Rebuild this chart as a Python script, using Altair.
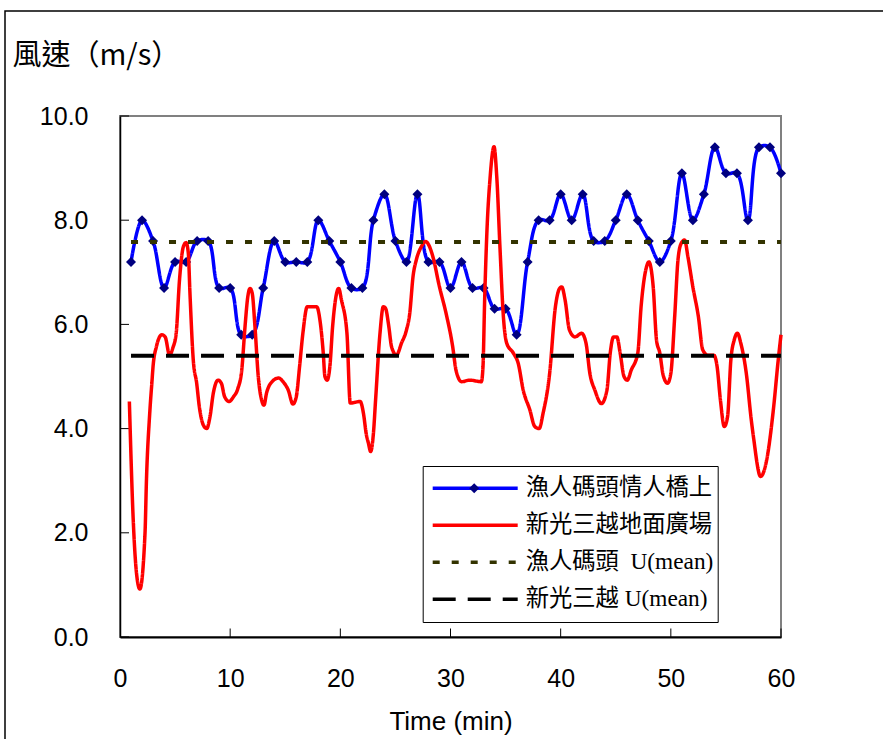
import altair as alt
import pandas as pd

# ---------------- data ----------------
minutes = list(range(1, 61))
bridge_speed = [7.2, 8.0, 7.6, 6.7, 7.2, 7.2, 7.6, 7.6, 6.7, 6.7,
                5.8, 5.8, 6.7, 7.6, 7.2, 7.2, 7.2, 8.0, 7.6, 7.2,
                6.7, 6.7, 8.0, 8.5, 7.6, 7.2, 8.5, 7.2, 7.2, 6.7,
                7.2, 6.7, 6.7, 6.3, 6.3, 5.8, 7.2, 8.0, 8.0, 8.5,
                8.0, 8.5, 7.6, 7.6, 8.0, 8.5, 8.0, 7.6, 7.2, 7.6,
                8.9, 8.0, 8.5, 9.4, 8.9, 8.9, 8.0, 9.4, 9.4, 8.9]

plaza_time = [0.85, 1.2, 1.5, 1.8, 2.27, 2.4, 2.7, 2.9, 3.0, 3.3,
              3.8, 4.1, 4.5, 4.8, 5.1, 5.4, 5.75, 6.0, 6.2, 6.35,
              6.65, 6.96, 7.2, 7.56, 7.87, 8.17, 8.47, 8.9, 9.2, 9.5,
              9.9, 10.3, 10.7, 11.05, 11.35, 11.6, 11.8, 12.0, 12.25, 12.55,
              12.85, 13.07, 13.3, 13.8, 14.4, 14.8, 15.27, 15.7, 16.0, 16.3,
              16.6, 17.0, 17.85, 18.15, 18.45, 18.6, 18.8, 19.05, 19.3, 19.6,
              19.85, 20.1, 20.6, 20.9, 21.8, 22.1, 22.35, 22.55, 22.75, 23.0,
              23.2, 23.6, 23.9, 24.1, 24.4, 24.65, 25.1, 25.55, 26.0, 26.3,
              26.6, 26.9, 27.35, 27.75, 28.1, 28.4, 29.0, 29.6, 30.2, 30.5,
              31.0, 31.75, 32.8, 32.95, 33.1, 33.3, 33.6, 33.95, 34.2, 34.5,
              34.8, 35.1, 35.7, 36.15, 36.6, 37.2, 37.65, 38.05, 38.4, 39.0,
              39.5, 39.9, 40.1, 40.4, 40.8, 41.3, 41.9, 42.3, 42.65, 43.1,
              43.7, 44.2, 44.5, 44.8, 45.1, 45.4, 45.75, 46.05, 46.4, 47.0,
              47.3, 47.8, 48.0, 48.4, 48.7, 49.0, 49.3, 49.7, 50.0, 50.35,
              50.65, 50.95, 51.25, 51.55, 52.0, 52.5, 52.9, 53.35, 53.9, 54.2,
              54.5, 54.85, 55.15, 55.45, 55.75, 56.05, 56.35, 56.85, 57.3, 57.5,
              58.15, 58.7, 59.3, 59.75, 60.0]
plaza_speed = [4.52, 2.25, 1.22, 0.92, 1.99, 3.0, 4.3, 4.9, 5.19, 5.57,
               5.80, 5.76, 5.41, 5.55, 5.83, 6.85, 7.49, 7.57, 7.37, 6.6,
               5.32, 4.87, 4.42, 4.07, 4.0, 4.23, 4.68, 4.93, 4.87, 4.61,
               4.52, 4.61, 4.77, 5.12, 5.96, 6.53, 6.69, 6.60, 5.96, 5.0,
               4.55, 4.45, 4.68, 4.90, 4.97, 4.90, 4.74, 4.47, 4.61, 5.19,
               5.83, 6.34, 6.34, 6.08, 5.45, 5.0, 4.93, 5.19, 5.96, 6.53,
               6.69, 6.47, 5.83, 4.49, 4.52, 4.29, 3.9, 3.72, 3.56, 3.9,
               4.55, 5.83, 6.34, 6.31, 5.96, 5.57, 5.41, 5.64, 5.89, 6.21,
               6.92, 7.24, 7.49, 7.59, 7.49, 7.30, 6.72, 6.21, 5.57, 5.12,
               4.90, 4.93, 4.90, 5.19, 6.47, 7.75, 8.83, 9.41, 8.83, 7.43,
               6.15, 5.64, 5.45, 5.25, 4.74, 4.36, 4.04, 4.0, 4.29, 5.06,
               6.3, 6.69, 6.72, 6.47, 5.89, 5.76, 5.83, 5.64, 5.06, 4.74,
               4.48, 4.74, 5.45, 5.76, 5.76, 5.45, 5.0, 4.93, 5.12, 5.45,
               6.34, 7.11, 7.20, 6.72, 5.70, 5.45, 5.03, 4.87, 5.06, 6.15,
               7.24, 7.56, 7.62, 7.30, 6.72, 6.15, 5.51, 5.41, 5.41, 5.19,
               4.55, 4.04, 4.23, 5.32, 5.70, 5.83, 5.64, 5.06, 4.17, 3.84,
               3.08, 3.40, 4.35, 5.32, 5.80]

mean_time = [1, 60]
bridge_mean = 7.58
plaza_mean = 5.4

x_tick_values = [0, 10, 20, 30, 40, 50, 60]
y_tick_values = [0, 2, 4, 6, 8, 10]

series_names = ["漁人碼頭情人橋上", "新光三越地面廣場",
                "漁人碼頭\u00a0 U(mean)", "新光三越 U(mean)"]
series_colors = ["#0000FF", "#FF0000", "#333300", "#000000"]
series_dashes = [[1, 0], [1, 0], [7, 12], [23, 12]]

# ---------------- tables ----------------
bridge_df = pd.DataFrame({"time": minutes, "speed": bridge_speed,
                          "series": series_names[0], "marker": "diamond"})
plaza_df = pd.DataFrame({"time": plaza_time, "speed": plaza_speed,
                         "series": series_names[1]})
mean_df = pd.DataFrame({
    "time": mean_time + mean_time,
    "speed": [bridge_mean] * 2 + [plaza_mean] * 2,
    "series": [series_names[2]] * 2 + [series_names[3]] * 2,
})
ytick_df = pd.DataFrame({"speed": y_tick_values})
xtick_df = pd.DataFrame({"time": x_tick_values[1:]})
frame_df = pd.DataFrame({"frame": [1]})

# ---------------- scales / axes ----------------
x_scale = alt.Scale(domain=[0, 60], nice=False, zero=False)
y_scale = alt.Scale(domain=[0, 10], nice=False)

x_axis = alt.Axis(values=x_tick_values, format="d", ticks=False, tickSize=0,
                  grid=False, labelFlush=False, labelPadding=29,
                  labelFont="Liberation Sans", labelFontSize=25, labelColor="black",
                  domainColor="black", domainWidth=2,
                  title="Time (min)", titleFont="Liberation Sans", titleFontSize=26,
                  titleFontWeight="normal", titleColor="black",
                  titleY=71, titleBaseline="top")
y_axis = alt.Axis(values=y_tick_values, format=".1f", ticks=False, tickSize=0,
                  grid=False, labelFlush=False, labelPadding=32,
                  labelFont="Liberation Sans", labelFontSize=25, labelColor="black",
                  domainColor="black", domainWidth=1.5,
                  title="風速（m/s）", titleAngle=0, titleAlign="left",
                  titleBaseline="middle", titleX=-108, titleY=-61,
                  titleFont="Noto Sans CJK TC", titleFontSize=29,
                  titleFontWeight="normal", titleColor="black")

legend_props = dict(orient="none", legendX=302.7, legendY=350, title=None,
                    direction="vertical", symbolType="stroke", symbolSize=7225,
                    symbolStrokeWidth=3.5, symbolOffset=4, padding=4,
                    clipHeight=36.3, rowPadding=0, labelOffset=6,
                    labelFont="Liberation Serif, Noto Sans CJK TC",
                    labelFontSize=23.3, labelColor="black", labelLimit=400,
                    fillColor="white", strokeColor="black")

color_enc = alt.Color("series:N",
                      scale=alt.Scale(domain=series_names, range=series_colors),
                      legend=alt.Legend(**legend_props))
dash_enc = alt.StrokeDash("series:N",
                          scale=alt.Scale(domain=series_names, range=series_dashes),
                          legend=alt.Legend(**legend_props))

X = alt.X("time:Q", scale=x_scale, axis=x_axis)
Y = alt.Y("speed:Q", scale=y_scale, axis=y_axis)

# ---------------- layers ----------------
frame = alt.Chart(frame_df).mark_rect(filled=False, stroke="black", strokeWidth=1.5).encode(
    x=alt.value(-115), x2=alt.value(800), y=alt.value(-105), y2=alt.value(700))

ytick_layer = alt.Chart(ytick_df).mark_rule(color="black", strokeWidth=1).encode(
    y=Y, x=alt.value(0), x2=alt.value(9))
xtick_layer = alt.Chart(xtick_df).mark_rule(color="black", strokeWidth=1).encode(
    x=X, y=alt.value(521), y2=alt.value(512.5))

bridge_line = alt.Chart(bridge_df).mark_line(strokeWidth=3.5, interpolate="catmull-rom").encode(
    x=X, y=Y, color=color_enc, strokeDash=dash_enc)
bridge_pts = alt.Chart(bridge_df).mark_point(filled=True, color="#000080", size=100, opacity=1).encode(
    x=X, y=Y,
    shape=alt.Shape("marker:N", scale=alt.Scale(domain=["diamond"], range=["diamond"]),
                    legend=alt.Legend(orient="none", legendX=348.2, legendY=354.15,
                                      title=None, labelExpr="''", symbolSize=100,
                                      symbolOffset=0, padding=0, clipHeight=36.3,
                                      labelOffset=0, labelFontSize=1,
                                      symbolFillColor="#000080",
                                      symbolStrokeColor="#000080")))
plaza_line = alt.Chart(plaza_df).mark_line(strokeWidth=3.5, interpolate="monotone").encode(
    x=X, y=Y, color=color_enc, strokeDash=dash_enc)
mean_lines = alt.Chart(mean_df).mark_line(strokeWidth=4).encode(
    x=X, y=Y, color=color_enc, strokeDash=dash_enc)

chart = alt.layer(
    frame, ytick_layer, xtick_layer, bridge_line, bridge_pts, plaza_line, mean_lines
).properties(
    width=661, height=521,
    autosize=alt.AutoSizeParams(type="none"),
    padding={"left": 120, "top": 116, "right": 102, "bottom": 102},
    background="white",
).configure_view(
    stroke="#808080", strokeWidth=2
)

chart.save("out.html", embed_options={"renderer": "svg", "actions": False})
